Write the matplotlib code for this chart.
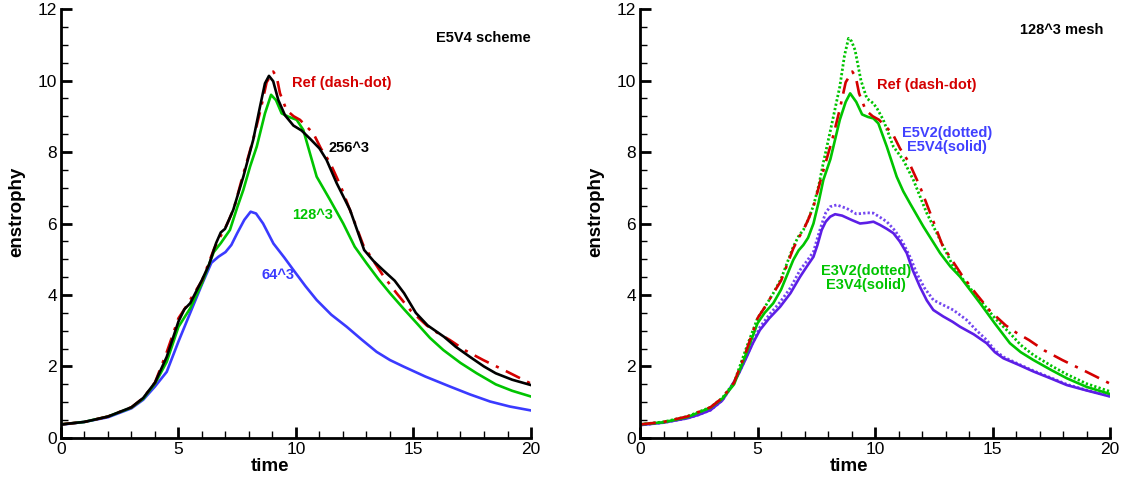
import numpy as np
import matplotlib.pyplot as plt
from matplotlib.ticker import MultipleLocator

plt.rcParams['font.family'] = ['Liberation Sans', 'DejaVu Sans']

# reference DNS (dash-dot), same in both panels
t_ref = [0, 1, 2, 3, 3.5, 4, 4.5, 5, 5.3, 5.67, 6.0, 6.52, 6.75, 6.95, 7.15, 7.38, 7.7, 8.2, 8.5, 8.75,
         9.03, 9.18, 9.32, 9.6, 9.9, 10.17, 10.74, 11.06, 11.45, 11.9, 12.4, 12.86, 13.3, 13.7, 14.28,
         14.9, 15.56, 16.0, 16.55, 17.2, 17.97, 19.0, 20]
ens_ref = [0.38, 0.45, 0.6, 0.86, 1.12, 1.55, 2.4, 3.35, 3.65, 4.05, 4.4, 5.3, 5.6, 5.82, 6.1, 6.47, 7.25, 8.4, 9.2, 9.95,
           10.25, 10.1, 9.64, 9.17, 9.0, 8.9, 8.52, 8.1, 7.7, 7.05, 6.2, 5.4, 4.95, 4.55, 4.05,
           3.55, 3.15, 2.95, 2.74, 2.45, 2.18, 1.85, 1.52]

# left panel: E5V4 on three meshes
t_256 = [0, 1, 2, 3, 3.5, 4, 4.5, 5, 5.25, 5.5, 6.0, 6.3, 6.6, 6.8, 6.98, 7.33, 7.76, 8.18, 8.47, 8.68,
         8.85, 9.03, 9.25, 9.53, 9.89, 10.24, 10.6, 11.0, 11.3, 11.73, 12.3, 12.9, 13.3, 13.7, 14.2,
         14.6, 15.1, 15.6, 16.3, 16.8, 17.4, 18.0, 18.5, 19.2, 20]
ens_256 = [0.38, 0.45, 0.6, 0.86, 1.12, 1.55, 2.27, 3.26, 3.6, 3.77, 4.42, 4.85, 5.45, 5.75, 5.85, 6.38, 7.31, 8.34, 9.27, 9.92,
           10.13, 9.98, 9.45, 9.03, 8.74, 8.6, 8.37, 8.1, 7.78, 7.13, 6.38, 5.26, 4.95, 4.7, 4.4,
           4.05, 3.5, 3.15, 2.83, 2.55, 2.27, 2.0, 1.81, 1.63, 1.48]

t_128 = [0, 1, 2, 3, 3.5, 4, 4.5, 5, 5.5, 6, 6.5, 6.8, 7.19, 7.5, 7.76, 8.05, 8.33, 8.68, 8.94, 9.15,
         9.39, 9.67, 10.03, 10.31, 10.6, 10.88, 11.45, 12.01, 12.5, 13.0, 13.5, 14.0, 14.6, 15.14,
         15.7, 16.27, 17.0, 17.69, 18.5, 19.2, 20]
ens_128 = [0.38, 0.45, 0.6, 0.85, 1.1, 1.52, 2.13, 3.11, 3.63, 4.33, 5.2, 5.45, 5.82, 6.45, 6.94, 7.6, 8.15, 9.08, 9.6, 9.45,
           9.08, 8.99, 8.9, 8.62, 7.95, 7.31, 6.66, 6.0, 5.35, 4.89, 4.45, 4.05, 3.6, 3.21,
           2.8, 2.46, 2.1, 1.81, 1.5, 1.32, 1.16]

t_64 = [0, 1, 2, 3, 3.5, 4, 4.5, 5, 5.5, 6, 6.4, 6.7, 7.0, 7.25, 7.5, 7.8, 8.07, 8.3, 8.6, 9.04,
        9.5, 9.89, 10.4, 10.88, 11.5, 12.16, 12.8, 13.43, 14.0, 14.57, 15.5, 16.55, 17.4, 18.26, 19.1, 20]
ens_64 = [0.37, 0.45, 0.58, 0.83, 1.07, 1.44, 1.85, 2.7, 3.5, 4.3, 4.9, 5.07, 5.2, 5.4, 5.73, 6.1, 6.33, 6.28, 6.0, 5.44,
          5.05, 4.7, 4.25, 3.86, 3.45, 3.11, 2.75, 2.41, 2.18, 2.0, 1.72, 1.44, 1.22, 1.02, 0.88, 0.77]

# right panel: schemes on 128^3
t_e3v2 = [0, 1, 2, 3, 3.5, 4, 4.54, 5, 5.3, 5.67, 6.0, 6.52, 6.75, 6.95, 7.15, 7.38, 7.6, 7.8, 8.1, 8.5,
          8.7, 8.87, 9.0, 9.15, 9.4, 9.65, 9.93, 10.1, 10.35, 10.78, 11.2, 11.63, 12.2, 12.77, 13.33,
          13.9, 14.47, 15.1, 15.74, 16.2, 16.74, 17.5, 18.16, 19.0, 20]
ens_e3v2 = [0.38, 0.45, 0.6, 0.86, 1.12, 1.55, 2.55, 3.35, 3.65, 4.05, 4.45, 5.35, 5.65, 5.82, 6.1, 6.5, 7.05, 7.7, 8.6, 9.83,
            10.7, 11.18, 11.1, 10.85, 10.0, 9.5, 9.36, 9.2, 8.9, 8.15, 7.78, 7.22, 6.29, 5.54, 4.79,
            4.3, 3.86, 3.35, 2.93, 2.6, 2.32, 2.02, 1.78, 1.52, 1.3]

t_e3v4 = [0, 1, 2, 3, 3.5, 4, 4.54, 5, 5.3, 5.67, 6.0, 6.52, 6.75, 6.95, 7.15, 7.38, 7.6, 7.8, 8.1, 8.5,
          8.75, 8.94, 9.2, 9.45, 9.7, 9.93, 10.14, 10.5, 10.92, 11.2, 11.49, 12.06, 12.77, 13.2, 13.62,
          14.47, 15.1, 15.74, 16.2, 16.74, 17.5, 18.16, 19.0, 20]
ens_e3v4 = [0.38, 0.44, 0.58, 0.85, 1.1, 1.5, 2.4, 3.21, 3.5, 3.77, 4.15, 4.98, 5.25, 5.4, 5.6, 6.0, 6.6, 7.22, 7.8, 8.9,
            9.4, 9.64, 9.4, 9.05, 8.98, 8.94, 8.8, 8.15, 7.31, 6.9, 6.56, 5.91, 5.17, 4.8, 4.51,
            3.77, 3.2, 2.65, 2.4, 2.18, 1.9, 1.67, 1.43, 1.23]

t_e5v2 = [0, 1, 2, 2.5, 3, 3.5, 3.83, 4.2, 4.54, 5.1, 5.5, 5.96, 6.4, 6.81, 7.1, 7.38, 7.55, 7.73, 7.9, 8.09,
          8.37, 8.8, 9.2, 9.45, 9.65, 9.93, 10.2, 10.5, 10.85, 11.2, 11.5, 11.77, 12.1, 12.48, 12.9, 13.33,
          13.9, 14.3, 14.75, 15.1, 15.46, 16.1, 16.74, 17.5, 18.16, 19.0, 20]
ens_e5v2 = [0.36, 0.43, 0.55, 0.65, 0.78, 1.05, 1.38, 1.8, 2.3, 3.1, 3.45, 3.8, 4.2, 4.7, 4.95, 5.21, 5.6, 5.98, 6.3, 6.47,
            6.52, 6.42, 6.27, 6.28, 6.3, 6.29, 6.18, 6.05, 5.8, 5.45, 5.05, 4.61, 4.2, 3.86, 3.72, 3.58,
            3.3, 3.02, 2.74, 2.45, 2.27, 2.07, 1.88, 1.68, 1.5, 1.34, 1.17]

t_e5v4 = [0, 1, 2, 2.5, 3, 3.5, 3.83, 4.2, 4.54, 4.8, 5.1, 5.5, 5.96, 6.4, 6.81, 7.1, 7.38, 7.55, 7.73, 7.9,
          8.09, 8.3, 8.6, 9.0, 9.36, 9.65, 9.93, 10.21, 10.5, 10.78, 11.05, 11.35, 11.6, 11.91, 12.2, 12.48,
          12.9, 13.3, 13.62, 14.2, 14.75, 15.1, 15.46, 16.1, 16.74, 17.5, 18.16, 19.0, 20]
ens_e5v4 = [0.36, 0.43, 0.55, 0.65, 0.78, 1.05, 1.38, 1.8, 2.27, 2.65, 3.02, 3.35, 3.67, 4.05, 4.51, 4.8, 5.07, 5.4, 5.82, 6.05,
            6.19, 6.26, 6.22, 6.1, 6.0, 6.02, 6.05, 5.96, 5.85, 5.73, 5.5, 5.17, 4.7, 4.23, 3.85, 3.58,
            3.4, 3.25, 3.11, 2.9, 2.65, 2.4, 2.23, 2.05, 1.86, 1.66, 1.48, 1.33, 1.16]

RED = '#d40000'
GREEN = '#00c400'
BLUE = '#3a3aff'
PURPLE = '#5c1ee6'
dashdot = (0, (6, 3, 1.2, 3))
dotted = (0, (0.8, 0.8))

fig = plt.figure(figsize=(11.31, 4.82), dpi=100)
ax1 = fig.add_axes([0.0539, 0.0913, 0.4156, 0.89])
ax2 = fig.add_axes([0.5659, 0.0913, 0.4156, 0.89])

ax1.plot(t_64, ens_64, color=BLUE, lw=1.9)
ax1.plot(t_128, ens_128, color=GREEN, lw=1.9)
ax1.plot(t_ref, ens_ref, color=RED, lw=1.9, linestyle=dashdot)
ax1.plot(t_256, ens_256, color='black', lw=1.9)

ax2.plot(t_e5v2, ens_e5v2, color='#7446f0', lw=2.0, linestyle=dotted)
ax2.plot(t_e5v4, ens_e5v4, color=PURPLE, lw=1.9)
ax2.plot(t_e3v2, ens_e3v2, color=GREEN, lw=2.0, linestyle=dotted)
ax2.plot(t_e3v4, ens_e3v4, color=GREEN, lw=1.9)
ax2.plot(t_ref, ens_ref, color=RED, lw=1.9, linestyle=dashdot)

for ax in (ax1, ax2):
    ax.set_xlim(0, 20)
    ax.set_ylim(0, 12)
    ax.spines['top'].set_visible(False)
    ax.spines['right'].set_visible(False)
    ax.spines['left'].set_linewidth(2)
    ax.spines['bottom'].set_linewidth(2)
    ax.xaxis.set_major_locator(MultipleLocator(5))
    ax.xaxis.set_minor_locator(MultipleLocator(1))
    ax.yaxis.set_major_locator(MultipleLocator(2))
    ax.yaxis.set_minor_locator(MultipleLocator(0.5))
    ax.tick_params(which='major', direction='in', length=8, width=2, labelsize=12.5, pad=3)
    ax.tick_params(which='minor', direction='in', length=5, width=1)
    ax.set_xlabel('time', fontsize=13.5, fontweight='bold')
    ax.set_ylabel('enstrophy', fontsize=13.5, fontweight='bold')
    ax.xaxis.set_label_coords(0.445, -0.047)
    ax.yaxis.set_label_coords(-0.076, 0.527)

kw = dict(fontsize=10.5, fontweight='bold')
ax1.text(20.0, 11.2, 'E5V4 scheme', ha='right', va='center', color='black', **kw)
ax1.text(9.82, 9.92, 'Ref (dash-dot)', ha='left', va='center', color=RED, **kw)
ax1.text(11.37, 8.1, '256^3', ha='left', va='center', color='black', **kw)
ax1.text(9.82, 6.24, '128^3', ha='left', va='center', color=GREEN, **kw)
ax1.text(8.54, 4.56, '64^3', ha='left', va='center', color=BLUE, **kw)

ax2.text(19.7, 11.41, '128^3 mesh', ha='right', va='center', color='black', **kw)
ax2.text(10.07, 9.87, 'Ref (dash-dot)', ha='left', va='center', color=RED, **kw)
ax2.text(13.05, 8.33, 'E5V2(dotted)\nE5V4(solid)', ha='center', va='center', color='#4040ff',
         linespacing=1.0, **kw)
ax2.text(9.6, 4.47, 'E3V2(dotted)\nE3V4(solid)', ha='center', va='center', color=GREEN,
         linespacing=1.0, **kw)

plt.savefig('out.png', dpi=100)
